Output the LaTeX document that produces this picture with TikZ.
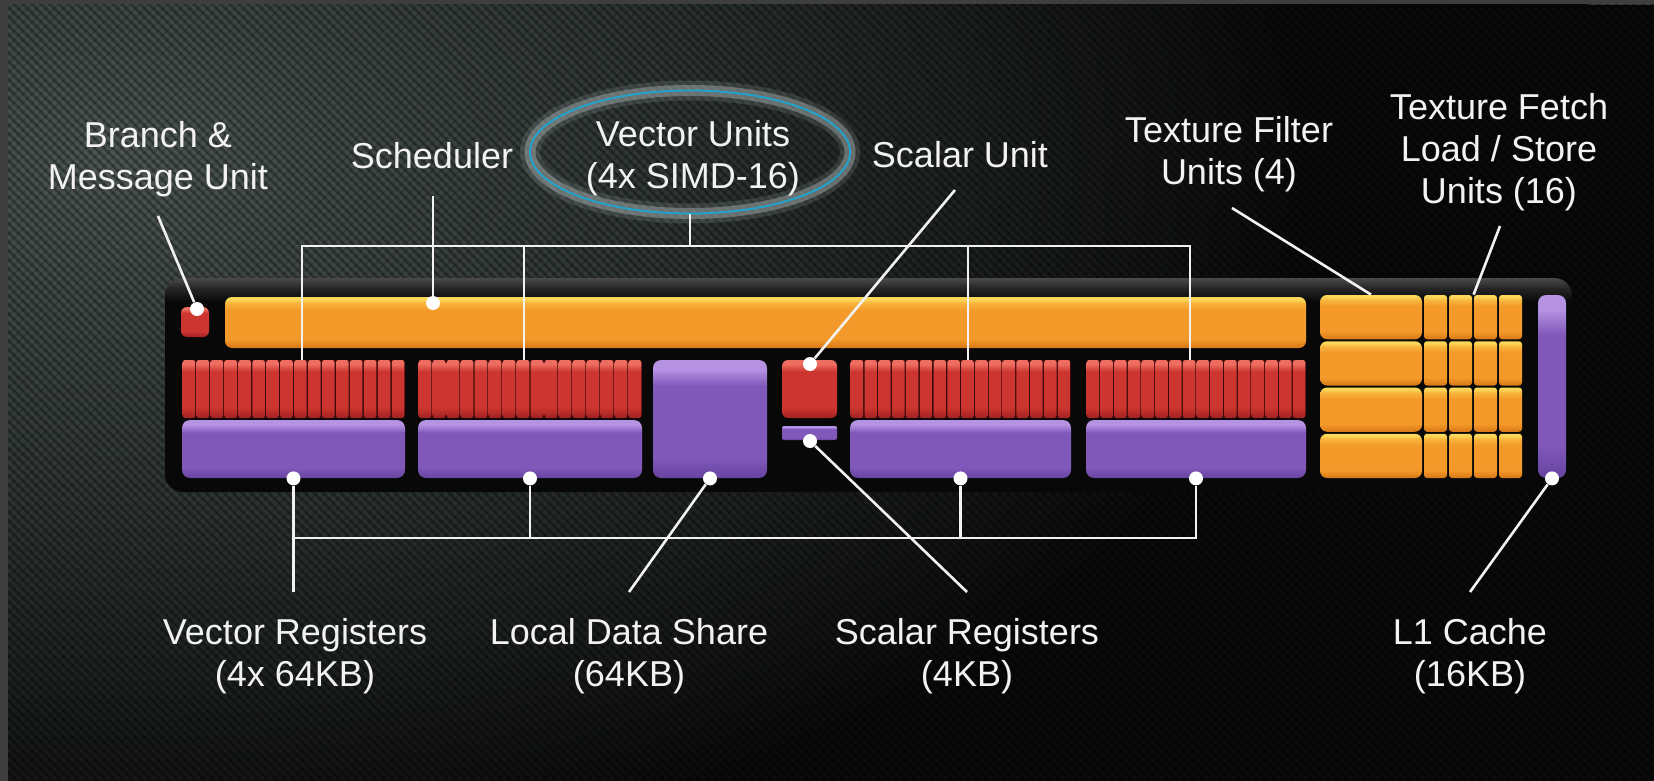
\documentclass[tikz,border=0pt]{standalone}
\usepackage{fontspec}
\setmainfont{Liberation Sans}
\usetikzlibrary{fit,shapes.geometric}

\definecolor{frameg}{HTML}{3E3E3E}
\definecolor{bgA}{HTML}{4C5652}
\definecolor{bgB}{HTML}{2C3331}
\definecolor{bgC}{HTML}{0A0A0A}
\definecolor{contc}{HTML}{080808}
\definecolor{rimA}{HTML}{4A4A4A}
\definecolor{rimB}{HTML}{242424}
\definecolor{oTop}{HTML}{FCD85A}
\definecolor{oHi}{HTML}{F8B43C}
\definecolor{oMid}{HTML}{F49A2A}
\definecolor{oBot}{HTML}{D87716}
\definecolor{rTop}{HTML}{EE6C60}
\definecolor{rMid}{HTML}{CC3530}
\definecolor{rBot}{HTML}{A02220}
\definecolor{rGap}{HTML}{3E0A09}
\definecolor{pTop}{HTML}{B592E2}
\definecolor{pMid}{HTML}{8058BA}
\definecolor{pBot}{HTML}{6743A0}
\definecolor{cyanl}{HTML}{1DA5D2}
\definecolor{glow}{HTML}{A8B2B2}
\definecolor{txt}{HTML}{F2F2F2}

% TikZ maps the band 25bp..75bp of a shading onto the path
\pgfdeclareverticalshading{orsh}{100bp}{color(0bp)=(oBot); color(25bp)=(oBot); color(34bp)=(oMid); color(62bp)=(oMid); color(69bp)=(oHi); color(73bp)=(oTop); color(100bp)=(oTop)}
\pgfdeclareverticalshading{redsh}{100bp}{color(0bp)=(rBot); color(25bp)=(rBot); color(34bp)=(rMid); color(65bp)=(rMid); color(71.5bp)=(rTop); color(100bp)=(rTop)}
\pgfdeclareverticalshading{pursh}{100bp}{color(0bp)=(pBot); color(25bp)=(pBot); color(34bp)=(pMid); color(64bp)=(pMid); color(71bp)=(pTop); color(100bp)=(pTop)}
\pgfdeclareverticalshading{contsh}{100bp}{color(0bp)=(contc); color(69.5bp)=(contc); color(72.5bp)=(rimB); color(75bp)=(rimA); color(100bp)=(rimA)}
\pgfdeclareradialshading{bgsh}{\pgfpoint{0bp}{0bp}}{color(0bp)=(bgA); color(10bp)=(bgB); color(20bp)=(bgC); color(50bp)=(bgC)}

\newcommand\mkblk[6]{\node[inner sep=0pt, #6, fit={(#2,#3) (#4,#5)}] (#1) {};}
\newcommand\mkstripes[4]{%
  \foreach \i in {0,...,15}{%
    \shade[shading=redsh, rounded corners=1.2pt]
      ({#1+(#2-#1)*\i/16+0.7},#3) rectangle ({#1+(#2-#1)*(\i+1)/16-0.7},#4);}}

\begin{document}
\begin{tikzpicture}[x=0.5pt,y=-0.5pt,
  container/.style={shade, shading=contsh, rounded corners=9pt},
  orgbox/.style={shade, shading=orsh, rounded corners=3.5pt},
  orgsmall/.style={shade, shading=orsh, rounded corners=1.5pt},
  redbase/.style={fill=rGap, rounded corners=1.5pt},
  redbox/.style={shade, shading=redsh, rounded corners=3pt},
  purbox/.style={shade, shading=pursh, rounded corners=4pt},
  dot/.style={circle, fill=white, inner sep=0pt, minimum size=7pt},
  conn/.style={draw=txt, line width=1.3pt},
  lbl/.style={text=txt, align=center, inner sep=0pt, font=\fontsize{18pt}{21pt}\selectfont}]
\useasboundingbox (0,0) rectangle (1654,781);

% frame and carbon background
\fill[frameg] (0,0) rectangle (1654,781);
\begin{scope}
  \clip (8,5) rectangle (1654,781);
  \fill[bgC] (8,5) rectangle (1654,781);
  \shade[shading=bgsh] (110,160) ellipse [x radius=1500, y radius=900];
  \foreach \k in {-800,-791,...,1660}
    \draw[black, opacity=.30, line width=1.4pt] (\k,0) -- ++(790,790);
  \foreach \k in {0,9,...,2460}
    \draw[black, opacity=.14, line width=1pt] (\k,0) -- ++(-790,790);
\end{scope}

% compute unit container
\mkblk{cu}{165}{278}{1572}{492}{container}

% branch unit and scheduler
\mkblk{bmu}{181}{307}{209}{337}{redbox}
\mkblk{sch}{225}{297}{1306}{348}{orgbox}

% SIMD red blocks and vector register files
\mkblk{r1}{182}{360}{405}{418}{redbase}
\mkblk{r2}{418}{360}{642}{418}{redbase}
\mkblk{r3}{850}{360}{1071}{418}{redbase}
\mkblk{r4}{1086}{360}{1306}{418}{redbase}
\mkstripes{182}{405}{360}{418}
\mkstripes{418}{642}{360}{418}
\mkstripes{850}{1071}{360}{418}
\mkstripes{1086}{1306}{360}{418}
\mkblk{p1}{182}{420}{405}{478}{purbox}
\mkblk{p2}{418}{420}{642}{478}{purbox}
\mkblk{p3}{850}{420}{1071}{478}{purbox}
\mkblk{p4}{1086}{420}{1306}{478}{purbox}

% local data share, scalar unit, scalar registers
\mkblk{lds}{653}{360}{767}{478}{purbox}
\mkblk{su}{782}{360}{837}{418}{redbox}
\mkblk{sr}{782}{426}{837}{440}{shade, shading=pursh, rounded corners=1pt}

% texture filter and load/store units
\foreach \r in {0,1,2,3}{%
  \pgfmathsetmacro\ya{295+\r*46.25}%
  \pgfmathsetmacro\yb{\ya+44.25}%
  \mkblk{tf\r}{1320}{\ya}{1422}{\yb}{orgbox}
  \foreach \c in {0,1,2,3}{%
    \pgfmathsetmacro\xa{1424+\c*25}%
    \pgfmathsetmacro\xb{\xa+23}%
    \mkblk{ls\r\c}{\xa}{\ya}{\xb}{\yb}{orgsmall}
  }
}
% L1 cache
\mkblk{l1}{1538}{295}{1566}{478}{purbox}

% Vector Units ellipse
\node[ellipse, minimum width=160pt, minimum height=61.5pt, inner sep=0pt,
      draw=cyanl, line width=0.9pt,
      preaction={draw=glow, line width=10pt, draw opacity=.18},
      preaction={draw=glow, line width=5.5pt, draw opacity=.45}] (vu) at (690,152) {};
\node[lbl] (vutxt) at (693,158) {Vector Units\\(4x SIMD-16)};

% labels
\node[lbl] (lbr) at (158,159) {Branch \&\\Message Unit};
\node[lbl] (lsc) at (432,156) {Scheduler};
\node[lbl] (lsu) at (960,155) {Scalar Unit};
\node[lbl] (ltf) at (1229,154) {Texture Filter\\Units (4)};
\node[lbl] (lls) at (1499,152) {Texture Fetch\\Load / Store\\Units (16)};
\node[lbl] (lvr) at (295,656) {Vector Registers\\(4x 64KB)};
\node[lbl] (llds) at (629,656) {Local Data Share\\(64KB)};
\node[lbl] (lsr) at (967,656) {Scalar Registers\\(4KB)};
\node[lbl] (ll1) at (1470,656) {L1 Cache\\(16KB)};

% dots
\node[dot] (dbr) at (197,309) {};
\node[dot] (dsc) at (433,303) {};
\node[dot] (dsu) at (810,364) {};
\node[dot] (dsr) at (810,441) {};
\node[dot] (dp1) at (p1.south) {};
\node[dot] (dp2) at (p2.south) {};
\node[dot] (dp3) at (p3.south) {};
\node[dot] (dp4) at (p4.south) {};
\node[dot] (dlds) at (lds.south) {};
\node[dot] (dl1) at (l1.south) {};

% connector ends near labels
\coordinate (tbr) at (158,216);
\coordinate (tsc) at (433,196);
\coordinate (tsu) at (955,190);
\coordinate (ttf) at (1232,208);
\coordinate (tls) at (1500,226);
\coordinate (tb1) at (302,246);
\coordinate (tb2) at (524,246);
\coordinate (tb3) at (968,246);
\coordinate (tb4) at (1190,246);
\coordinate (by) at (0,538);
\coordinate (ey) at (0,592);
\coordinate (elds) at (629,592);
\coordinate (esr) at (967,592);
\coordinate (el1) at (1470,592);

% top connectors
\draw[conn] (tbr) -- (dbr);
\draw[conn] (tsc) -- (dsc);
\draw[conn] (tsu) -- (dsu);
\draw[conn] (ttf) -- (tf0.north);
\draw[conn] (tls) -- (ls02.north west);
\draw[conn] (vu.south) -- (vu.south |- tb1);
\draw[conn] (tb1 |- r1.north) -- (tb1) -- (tb4) -- (tb4 |- r4.north);
\draw[conn] (tb2) -- (tb2 |- r2.north);
\draw[conn] (tb3) -- (tb3 |- r3.north);

% bottom connectors
\draw[conn] (dp1) -- (dp1 |- ey);
\draw[conn] (dp1 |- by) -- (dp4 |- by) -- (dp4);
\draw[conn] (dp2) -- (dp2 |- by);
\draw[conn] (dp3) -- (dp3 |- by);
\draw[conn] (dlds) -- (elds);
\draw[conn] (dsr) -- (esr);
\draw[conn] (dl1) -- (el1);
\end{tikzpicture}
\end{document}
